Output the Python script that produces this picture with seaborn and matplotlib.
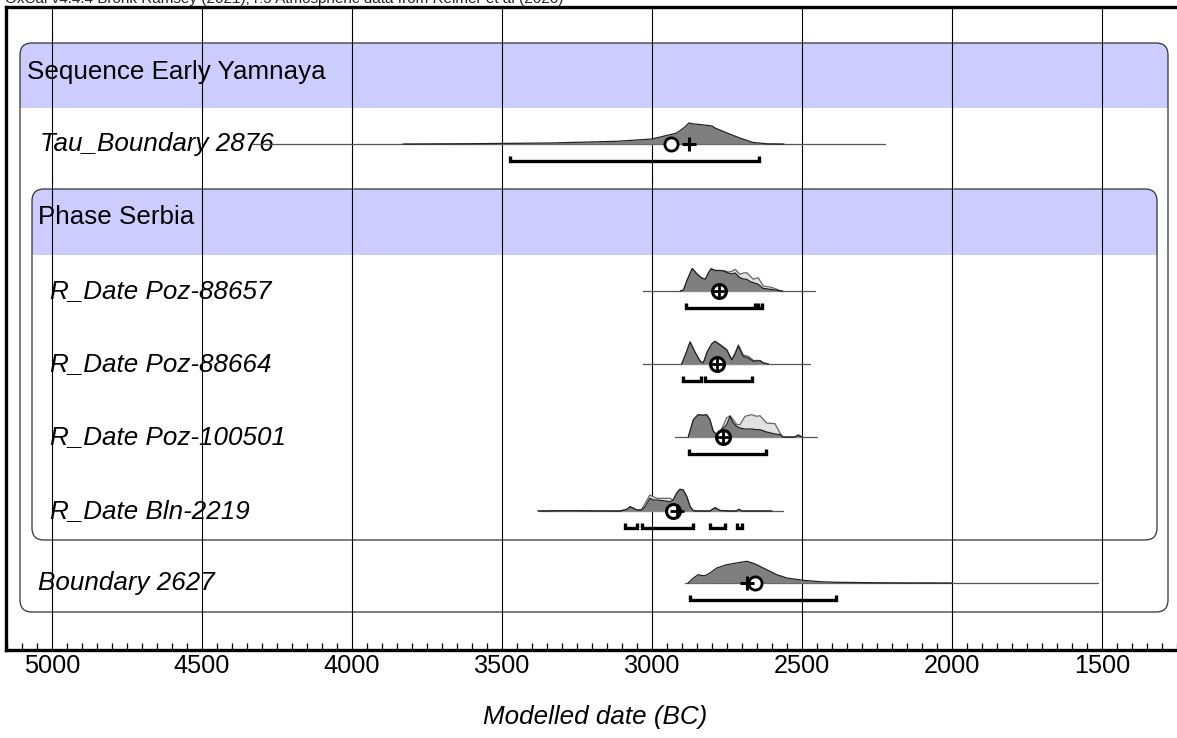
import numpy as np
import pandas as pd
import matplotlib
matplotlib.use("Agg")
import matplotlib.pyplot as plt
import seaborn as sns
from matplotlib.patches import FancyBboxPatch, Rectangle
from matplotlib.ticker import MultipleLocator, FixedLocator

sns.set_theme(style="white")
plt.rcParams['font.family'] = ['Liberation Sans', 'DejaVu Sans']

# ---------------- data (years BC, relative density) ----------------
tick_labels = [5000, 4500, 4000, 3500, 3000, 2500, 2000, 1500]

tau_years = [3830, 3600, 3340, 3117, 3000, 2917, 2890, 2877, 2860, 2840, 2800, 2790, 2750, 2707, 2663, 2617, 2560]
tau_dens = [0, 0.3, 1, 2.7, 5, 11, 17, 21, 20, 19.5, 18, 16, 11, 6, 1.5, 0.2, 0]
tau_range = [4330, 2223]
tau_mean, tau_median = 2937, 2877
tau_hpd = [[3473, 2643]]

p88657_years = [2905, 2895, 2884, 2866, 2850, 2835, 2822, 2812, 2803, 2790, 2775, 2762, 2746, 2735, 2723, 2707, 2695, 2684, 2673, 2662, 2646, 2629, 2618, 2607, 2595, 2584, 2573, 2565]
p88657_post = [0, 1, 10, 22.5, 17, 13, 11.7, 18, 22.3, 20.5, 20.5, 20, 18, 17, 18, 13.3, 12, 11.7, 9.5, 8.3, 6.7, 2.5, 2.3, 1.7, 1.2, 0.7, 0.2, 0]
p88657_like = [0, 1, 10, 22.5, 17, 13, 11.7, 18, 22.3, 20.5, 20.5, 20.5, 19, 19.5, 21.7, 16.7, 18, 18.3, 15, 11.7, 13.3, 5, 4.5, 4, 3, 1.7, 0.4, 0]
p88657_range = [3030, 2457]
p88657_mean = 2777
p88657_hpd = [[2887, 2657], [2647, 2633]]

p88664_years = [2901, 2890, 2873, 2857, 2840, 2829, 2816, 2801, 2790, 2773, 2751, 2734, 2723, 2712, 2696, 2679, 2662, 2650, 2640, 2629, 2612]
p88664_post = [0, 8, 22, 12, 3, 1, 12, 20, 22.7, 19, 14, 4, 10, 17.7, 7.7, 6, 2.7, 3, 3.3, 1, 0]
p88664_like = [0, 8, 22, 12, 3, 1, 12, 20, 22.7, 19.5, 14.5, 4.5, 11, 19.3, 9, 7.7, 3.5, 3.5, 3.5, 1.2, 0]
p88664_range = [3030, 2473]
p88664_mean = 2783
p88664_hpd = [[2897, 2837], [2823, 2667]]

p100501_years = [2879, 2862, 2846, 2829, 2818, 2807, 2796, 2784, 2768, 2751, 2740, 2729, 2718, 2707, 2690, 2668, 2651, 2640, 2618, 2590, 2573, 2564, 2525, 2512, 2500]
p100501_post = [0, 17.3, 22.3, 21.7, 22.3, 17.3, 5.7, 2.3, 7.3, 12.3, 20.7, 14, 10.7, 9, 8, 8, 7.3, 7.3, 5, 3, 2.3, 0, 0, 1.5, 0]
p100501_like = [0, 17.3, 22.3, 21.7, 22.3, 17.3, 5.7, 2.3, 8, 19, 21.3, 17.3, 12.7, 12.3, 20.7, 22.3, 20.7, 21.3, 14, 13.3, 4, 0, 0, 2.3, 0]
p100501_range = [2923, 2451]
p100501_mean = 2763
p100501_hpd = [[2877, 2620]]

bln_years = [3380, 3300, 3250, 3200, 3107, 3085, 3073, 3060, 3051, 3035, 3023, 3007, 2996, 2984, 2962, 2940, 2929, 2918, 2907, 2896, 2884, 2873, 2862, 2840, 2807, 2790, 2773, 2740, 2718, 2710, 2701, 2600]
bln_post = [0, 0.3, 0.3, 0.1, 0, 1.5, 4.3, 2.5, 1, 0.8, 4.3, 12.7, 11, 11, 10.3, 9.3, 11, 17.7, 21.7, 21, 14.3, 4.3, 0.3, 0, 0, 3.3, 0.5, 0, 0, 1.7, 0, 0]
bln_like = [0, 0.3, 0.3, 0.1, 0, 1.5, 4.3, 2.5, 1, 1.5, 7.7, 16, 14.3, 12.7, 12.7, 12.7, 11, 17.7, 21.7, 21, 14.3, 4.3, 0.3, 0, 0, 3.3, 0.5, 0, 0, 1.7, 0, 0]
bln_range = [3373, 2563]
bln_mean, bln_median = 2930, 2918
bln_hpd = [[3090, 3050], [3033, 2863], [2807, 2757], [2717, 2700]]

bnd_years = [2880, 2862, 2846, 2835, 2823, 2807, 2784, 2751, 2718, 2684, 2665, 2651, 2618, 2584, 2551, 2496, 2440, 2384, 2273, 2163, 2000]
bnd_dens = [0, 5, 8.3, 7.5, 7.3, 10, 15, 18.3, 20, 21.7, 20, 18.3, 13.3, 8.3, 5, 2.7, 1.3, 0.7, 0.3, 0.1, 0]
bnd_range = [2890, 1513]
bnd_mean, bnd_median = 2657, 2683
bnd_hpd = [[2873, 2387]]

# ---------------- figure ----------------
W, H = 1177, 738
fig = plt.figure(figsize=(W / 100, H / 100), dpi=100)

bg = fig.add_axes([0, 0, 1, 1], zorder=0)
bg.set_xlim(0, W)
bg.set_ylim(H, 0)
bg.axis("off")

ax_top, ax_bot, ax_left = 7, 650, 6
ax = fig.add_axes([ax_left / W, (H - ax_bot) / H, (W - ax_left + 4) / W, (ax_bot - ax_top) / H], zorder=1)
ax.patch.set_alpha(0)
px_per_year = 0.3
x_left_year = 5000 + (52 - ax_left) / px_per_year
x_right_year = x_left_year - (W - ax_left + 4) / px_per_year
ax.set_xlim(x_left_year, x_right_year)
ax.set_ylim(ax_bot, ax_top)

for s in ["left", "top", "bottom"]:
    ax.spines[s].set_linewidth(2.4)
    ax.spines[s].set_color("black")
ax.spines["right"].set_visible(False)
ax.set_yticks([])
ax.xaxis.set_major_locator(FixedLocator(tick_labels))
ax.xaxis.set_minor_locator(MultipleLocator(50))
ax.set_xticklabels([str(t) for t in tick_labels], fontsize=18.2)
ax.tick_params(axis="x", which="major", direction="in", length=10, width=2.4, pad=3, colors="black", labelcolor="black")
ax.tick_params(axis="x", which="minor", direction="in", length=5, width=0.9, colors="black", bottom=True)
ax.grid(False)

for t in tick_labels:
    ax.axvline(t, color="black", lw=0.8, zorder=1)

# ---------------- boxes (pixel space) ----------------
purple = "#ccccff"

def group_box(x0, y0, x1, y1, yh):
    box = FancyBboxPatch((x0, y0), x1 - x0, y1 - y0,
                         boxstyle="round,pad=0,rounding_size=12",
                         facecolor="none", edgecolor="#333333", lw=0.9, zorder=2)
    bg.add_patch(box)
    band = Rectangle((x0, y0), x1 - x0, yh - y0, facecolor=purple, edgecolor="none", zorder=1)
    bg.add_patch(band)
    band.set_clip_path(box)

group_box(20, 43, 1168, 612, 108)
group_box(32, 189, 1157, 540, 255)

LFS = 18.7
bg.text(27, 72, "Sequence Early Yamnaya", fontsize=LFS, va="center", ha="left", color="black")
bg.text(38, 217, "Phase Serbia", fontsize=LFS, va="center", ha="left", color="black")

# ---------------- rows ----------------
dark = "#7f7f7f"
light = "#e2e2e2"

def draw_row(label, lx, y, years, post, rng, hpd, like=None, mean=None, median=None, kind="boundary"):
    bg.text(lx, y, label, fontsize=LFS, style="italic", va="center", ha="left", color="black", zorder=3)
    ax.plot(rng, [y, y], color="#555555", lw=0.9, zorder=2)
    yrs = np.asarray(years, float)
    if like is not None:
        lk = y - np.asarray(like, float)
        ax.fill_between(yrs, y, lk, color=light, lw=0, zorder=3)
        sns.lineplot(x=yrs, y=lk, ax=ax, color="#666666", lw=0.9, zorder=4, estimator=None, sort=False)
    pv = y - np.asarray(post, float)
    ax.fill_between(yrs, y, pv, color=dark, lw=0, zorder=5)
    sns.lineplot(x=yrs, y=pv, ax=ax, color="#222222", lw=0.9, zorder=6, estimator=None, sort=False)
    yb = y + 17
    for a, b in hpd:
        ax.plot([a, a, b, b], [yb - 5, yb, yb, yb - 5], color="black", lw=2.4,
                solid_joinstyle="miter", solid_capstyle="butt", zorder=6)
    if kind == "rdate":
        ax.plot([mean], [y], marker="o", ms=10, mfc="white", mec="black", mew=2.2, zorder=8, ls="none")
        ax.plot([mean if median is None else median], [y], marker="+", ms=10, mec="black", mew=2.0, zorder=9, ls="none")
    else:
        ax.plot([mean], [y], marker="o", ms=9.5, mfc="white", mec="black", mew=2.0, zorder=8, ls="none")
        ax.plot([median], [y], marker="+", ms=10, mec="black", mew=2.2, zorder=9, ls="none")

draw_row("Tau_Boundary 2876", 40, 144, tau_years, tau_dens, tau_range, tau_hpd, mean=tau_mean, median=tau_median)
draw_row("R_Date Poz-88657", 50, 291, p88657_years, p88657_post, p88657_range, p88657_hpd, like=p88657_like, mean=p88657_mean, kind="rdate")
draw_row("R_Date Poz-88664", 50, 364, p88664_years, p88664_post, p88664_range, p88664_hpd, like=p88664_like, mean=p88664_mean, kind="rdate")
draw_row("R_Date Poz-100501", 50, 437, p100501_years, p100501_post, p100501_range, p100501_hpd, like=p100501_like, mean=p100501_mean, kind="rdate")
draw_row("R_Date Bln-2219", 50, 511, bln_years, bln_post, bln_range, bln_hpd, like=bln_like, mean=bln_mean, median=bln_median, kind="rdate")
draw_row("Boundary 2627", 38, 583, bnd_years, bnd_dens, bnd_range, bnd_hpd, mean=bnd_mean, median=bnd_median)

ax.set_xlabel("")
ax.set_ylabel("")
bg.text(595, 717, "Modelled date (BC)", fontsize=18.7, style="italic", ha="center", va="center", color="black")

fig.text(5 / W, 1 - 3 / H, "OxCal v4.4.4 Bronk Ramsey (2021); r:5 Atmospheric data from Reimer et al (2020)",
         fontsize=11, va="baseline", ha="left", color="#222222")

fig.savefig("out.png", dpi=100)
